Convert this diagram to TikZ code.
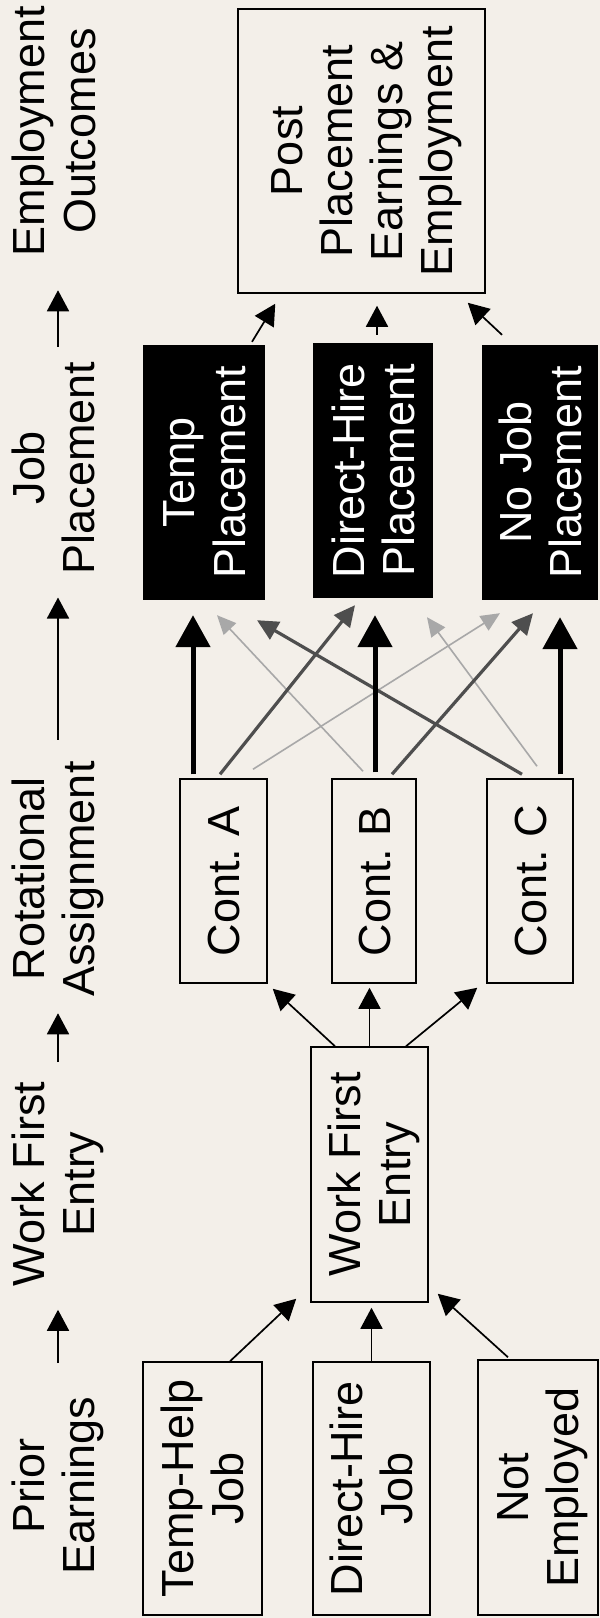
\documentclass[tikz,border=0pt]{standalone}
\usepackage{fontspec}
\setmainfont{Liberation Sans}
\usepackage{graphicx}
\usepackage{array}
\usetikzlibrary{arrows.meta,calc}
\definecolor{paper}{RGB}{243,239,233}
\definecolor{darkg}{RGB}{78,78,78}
\definecolor{lightg}{RGB}{168,168,168}
\frenchspacing
\newcommand{\rs}{\rule[-9pt]{0pt}{50pt}}
\newcommand{\rt}[1]{\rotatebox{90}{\renewcommand\arraystretch{0}\begin{tabular}{@{}>{\rs}c@{}}#1\end{tabular}}}
\begin{document}
\begin{tikzpicture}[x=1pt,y=-1pt,
  every node/.style={inner sep=0pt, font=\fontsize{45}{50}\selectfont},
  box/.style={draw=black, line width=1.5pt},
  blk/.style={fill=black, text=white},
  thinarr/.style={line width=1.7pt, -{Triangle[length=21pt,width=22pt]}},
  thickarr/.style={line width=5pt, -{Triangle[length=32pt,width=34pt]}},
  darkarr/.style={line width=3.2pt, darkg, -{Triangle[length=21pt,width=20pt]}},
  lightarr/.style={line width=1.6pt, lightg, -{Triangle[length=19pt,width=17pt]}}]
\fill[paper] (0,0) rectangle (600,1618);
\useasboundingbox (0,0) rectangle (600,1618);

% headers
\node (hEO) at (54,131) {\rt{Employment\\Outcomes}};
\node (hJP) at (54,468) {\rt{Job\\Placement}};
\node (hRA) at (54,879) {\rt{Rotational\\Assignment}};
\node (hWF) at (54,1184) {\rt{Work First\\Entry}};
\node (hPE) at (54,1486) {\rt{Prior\\Earnings}};

% boxes
\node[box, minimum width=247pt, minimum height=284pt] (post) at (361.5,151) {\rt{Post\\Placement\\Earnings \&\\Employment}};
\node[blk, minimum width=122pt, minimum height=255pt] (pT) at (204,472.5) {\rt{Temp\\Placement}};
\node[blk, minimum width=120pt, minimum height=255pt] (pD) at (373,470.5) {\rt{Direct-Hire\\Placement}};
\node[blk, minimum width=116pt, minimum height=255pt] (pN) at (540,472.5) {\rt{No Job\\Placement}};
\node[box, minimum width=87pt, minimum height=204pt] (cA) at (223.5,881) {\rt{Cont. A}};
\node[box, minimum width=84pt, minimum height=204pt] (cB) at (374,881) {\rt{Cont. B}};
\node[box, minimum width=86pt, minimum height=204pt] (cC) at (530,881) {\rt{Cont. C}};
\node[box, minimum width=117pt, minimum height=255pt] (wfe) at (369.5,1174.5) {\rt{Work First\\Entry}};
\node[box, minimum width=119pt, minimum height=253pt] (jT) at (202.5,1488.5) {\rt{Temp-Help\\Job}};
\node[box, minimum width=117pt, minimum height=253pt] (jD) at (371.5,1488.5) {\rt{Direct-Hire\\Job}};
\node[box, minimum width=120pt, minimum height=255pt] (jN) at (538,1487.5) {\rt{Not\\Employed}};

% header arrows
\draw[thinarr] ($(hPE.north)+(4,-34)$) -- ($(hWF.south)+(4,23.5)$);
\draw[thinarr] ($(hWF.north)+(4,-19.5)$) -- ($(hRA.south)+(4,16.5)$);
\draw[thinarr] ($(hRA.north)+(4,-21.5)$) -- ($(hJP.south)+(4,23)$);
\draw[thinarr] ($(hJP.north)+(4,-15)$) -- ($(hEO.south)+(4,34)$);

% prior -> work first
\draw[thinarr] ($(jT.north)+(27.5,0)$) -- ($(wfe.south west)+(-14,-4)$);
\draw[thinarr, shorten >=5pt] (jD.north) -- (jD.north |- wfe.south);
\draw[thinarr] ($(jN.north)+(-30,-2)$) -- ($(wfe.south east)+(9,-9)$);

% work first -> contractors
\draw[thinarr] ($(wfe.north)+(-34.5,0)$) -- ($(cA.south east)+(5,5)$);
\draw[thinarr, shorten >=4pt] (wfe.north) -- (wfe.north |- cB.south);
\draw[thinarr] ($(wfe.north)+(36.5,0)$) -- ($(cC.south west)+(-9,4)$);

% contractors -> placements
\draw[lightarr] ($(cB.north)+(-11,-7)$) -- ($(pT.south)+(13,15)$);
\draw[lightarr] ($(cC.north)+(7,-12)$) -- ($(pD.south)+(54,19)$);
\draw[lightarr] ($(cA.north)+(29.5,-9)$) -- ($(pN.south)+(-40,13)$);
\draw[darkarr] ($(cA.north)+(-3.5,-4)$) -- ($(pD.south)+(-18,7)$);
\draw[darkarr] ($(cB.north)+(18,-4)$) -- ($(pN.south)+(-7,13)$);
\draw[darkarr] ($(cC.north)+(-8,-4)$) -- ($(pT.south)+(53,20)$);
\draw[thickarr] ($(cA.north)+(-30.5,-4)$) -- ($(pT.south)+(-11,15)$);
\draw[thickarr] ($(cB.north)+(1,-6)$) -- ($(pD.south)+(2,17)$);
\draw[thickarr] ($(cC.north)+(30,-4)$) -- ($(pN.south)+(20,17)$);

% placements -> outcomes
\draw[thinarr] ($(pT.north)+(48,-3)$) -- ($(post.south west)+(38,10)$);
\draw[thinarr] ($(pD.north)+(4,-8)$) -- ($(post.south)+(15.5,12)$);
\draw[thinarr] ($(pN.north)+(-38,-10)$) -- ($(post.south east)+(-18,9)$);
\end{tikzpicture}
\end{document}
